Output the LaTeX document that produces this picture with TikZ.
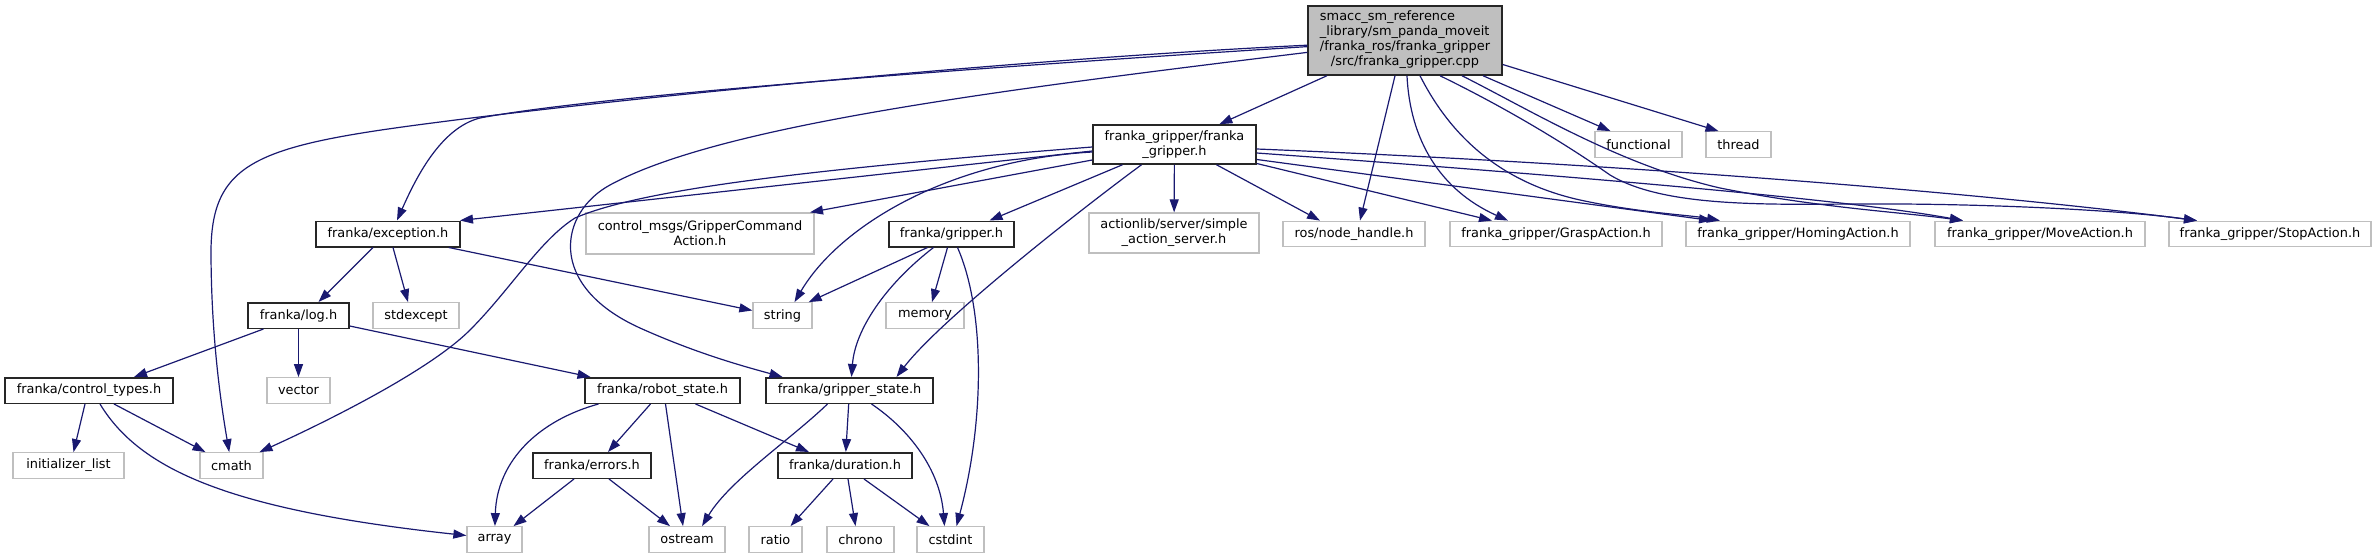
\documentclass[tikz,border=0pt]{standalone}
\usepackage{fontspec}
\setmainfont{DejaVu Sans}
\usetikzlibrary{arrows.meta}
\definecolor{edgeblue}{HTML}{191970}
\definecolor{boxgray}{HTML}{BFBFBF}

\begin{document}
\begin{tikzpicture}[x=1pt, y=-1pt, font=\fontsize{12.9}{15}\selectfont,
  box/.style={draw=black!85, line width=1.5pt, inner sep=0pt, minimum height=25.5, align=center},
  ext/.style={box, draw=boxgray, line width=1.3pt},
  dep/.style={draw=edgeblue, line width=1.2pt, -{Triangle[length=13pt,width=9pt]}}]
  \useasboundingbox (0,0) rectangle (2377,559);

  % nodes, row by row
  \node[box, fill=boxgray, minimum width=194, minimum height=69] (cpp) at (1405,40.5)
    {\begin{tabular}{@{}l@{}}smacc\_sm\_reference\\\_library/sm\_panda\_moveit\\/franka\_ros/franka\_gripper\\\multicolumn{1}{@{}c@{}}{/src/franka\_gripper.cpp}\end{tabular}};

  \node[box, minimum width=163, minimum height=39] (fgripper) at (1174.5,144.5) {franka\_gripper/franka\\\_gripper.h};
  \node[ext, minimum width=87] (functional) at (1638.5,144.5) {functional};
  \node[ext, minimum width=65] (thread) at (1738.5,144.5) {thread};

  \node[box, minimum width=144] (exception) at (388,234) {franka/exception.h};
  \node[ext, minimum width=228, minimum height=41] (ctrlmsgs) at (700,233.5) {control\_msgs/GripperCommand\\Action.h};
  \node[box, minimum width=125] (gripper) at (951.5,234) {franka/gripper.h};
  \node[ext, minimum width=170, minimum height=40] (actionlib) at (1174,233) {actionlib/server/simple\\\_action\_server.h};
  \node[ext, minimum width=142] (nodehandle) at (1354,234) {ros/node\_handle.h};
  \node[ext, minimum width=212] (grasp) at (1556,234) {franka\_gripper/GraspAction.h};
  \node[ext, minimum width=224] (homing) at (1798,234) {franka\_gripper/HomingAction.h};
  \node[ext, minimum width=210] (move) at (2040,234) {franka\_gripper/MoveAction.h};
  \node[ext, minimum width=202] (stop) at (2270,234) {franka\_gripper/StopAction.h};

  \node[box, minimum width=101] (log) at (298.5,315.5) {franka/log.h};
  \node[ext, minimum width=86] (stdexcept) at (416,315.5) {stdexcept};
  \node[ext, minimum width=59] (string) at (782.5,315.5) {string};
  \node[ext, minimum width=78] (memory) at (925,315.5) {memory};

  \node[box, minimum width=168] (ctltypes) at (89,390.5) {franka/control\_types.h};
  \node[ext, minimum width=63] (vector) at (298.5,390.5) {vector};
  \node[box, minimum width=155] (robotstate) at (662.5,390.5) {franka/robot\_state.h};
  \node[box, minimum width=167] (gripstate) at (849.5,390.5) {franka/gripper\_state.h};

  \node[ext, minimum width=111] (initlist) at (68.5,465.5) {initializer\_list};
  \node[ext, minimum width=63] (cmath) at (231.5,465.5) {cmath};
  \node[box, minimum width=118] (errors) at (592,465.5) {franka/errors.h};
  \node[box, minimum width=134] (duration) at (845,465.5) {franka/duration.h};

  \foreach \n/\x/\w in {array/494.5/55, ostream/687/76, ratio/775.5/53, chrono/860.5/67, cstdint/950.5/67}
    \node[ext, minimum width=\w] (\n) at (\x,539.5) {\n};

  % includes of the .cpp
  \draw[dep] (cpp) .. controls (1000,60) and (600,101) .. (440,122) .. controls (260,145) and (212,160) .. (211,250) .. controls (211,340) and (222,410) .. (cmath);
  \draw[dep] (cpp) .. controls (1000,66) and (600,95) .. (480,118) .. controls (440,128) and (415,180) .. ([xshift=9]exception.north);
  \draw[dep] (cpp) -- (fgripper);
  \draw[dep] (cpp) .. controls (1000,90) and (720,125) .. (610,185) .. controls (560,212) and (545,285) .. (640,328) .. controls (700,355) and (750,368) .. ([xshift=-67]gripstate.north);
  \draw[dep] ([xshift=-10]cpp.south) -- ([xshift=6]nodehandle.north);
  \draw[dep] ([xshift=2]cpp.south) .. controls (1410,140) and (1440,190) .. ([xshift=-48]grasp.north);
  \draw[dep] ([xshift=15]cpp.south) .. controls (1445,125) and (1490,180) .. (1580,200) .. controls (1640,213) and (1690,215) .. ([xshift=-78]homing.north);
  \draw[dep] ([xshift=35]cpp.south) .. controls (1500,105) and (1560,140) .. (1610,175) .. controls (1660,205) and (1750,205) .. (1850,204) .. controls (1980,203) and (2120,210) .. ([xshift=-73]stop.north);
  \draw[dep] ([xshift=57]cpp.south) .. controls (1530,110) and (1620,165) .. (1720,188) .. controls (1820,208) and (1900,212) .. ([xshift=-77]move.north);
  \draw[dep] ([xshift=78]cpp.south) -- ([xshift=-28]functional.north);
  \draw[dep] ([yshift=-24]cpp.east) -- ([xshift=-20]thread.north);

  % includes of franka_gripper.h
  \draw[dep] ([yshift=-6.5]fgripper.west) -- ([xshift=72]exception.north);
  \draw[dep] ([yshift=-2.5]fgripper.west) .. controls (800,170) and (640,190) .. (575,218) .. controls (540,240) and (510,290) .. (470,330) .. controls (430,370) and (330,420) .. ([xshift=28]cmath.north);
  \draw[dep] ([yshift=-15.5]fgripper.west) -- ([xshift=110]ctrlmsgs.north);
  \draw[dep] ([xshift=-52]fgripper.south) -- ([xshift=38]gripper.north);
  \draw[dep] ([yshift=-7.5]fgripper.west) .. controls (950,160) and (840,225) .. ([xshift=12]string.north);
  \draw[dep] ([xshift=-33]fgripper.south) .. controls (1080,210) and (940,320) .. ([xshift=47]gripstate.north);
  \draw[dep] (fgripper) -- (actionlib);
  \draw[dep] ([xshift=42]fgripper.south) -- ([xshift=-34]nodehandle.north);
  \draw[dep] ([yshift=-19]fgripper.east) -- ([xshift=-64]grasp.north);
  \draw[dep] ([yshift=-15]fgripper.east) -- ([xshift=-86]homing.north);
  \draw[dep] ([yshift=-8.5]fgripper.east) .. controls (1600,178) and (1850,200) .. ([xshift=-77]move.north);
  \draw[dep] ([yshift=-4.5]fgripper.east) .. controls (1650,165) and (2000,195) .. ([xshift=-73]stop.north);

  % franka headers
  \draw[dep] ([xshift=-15]exception.south) -- ([xshift=20]log.north);
  \draw[dep] ([xshift=5]exception.south) -- ([xshift=-8]stdexcept.north);
  \draw[dep] ([xshift=-12]exception.south east) -- ([yshift=5]string.west);

  \draw[dep] ([xshift=-24]gripper.south) -- ([xshift=-4]string.north east);
  \draw[dep] ([xshift=-4]gripper.south) -- ([xshift=7]memory.north);
  \draw[dep] ([xshift=-18]gripper.south) .. controls (885,285) and (855,330) .. ([xshift=2]gripstate.north);
  \draw[dep] ([xshift=6]gripper.south) .. controls (985,310) and (985,420) .. ([xshift=6]cstdint.north);

  \draw[dep] ([xshift=-35]log.south) -- ([xshift=45]ctltypes.north);
  \draw[dep] (log) -- (vector);
  \draw[dep] ([yshift=3]log.south east) -- ([xshift=-72]robotstate.north);

  \draw[dep] ([xshift=-4]ctltypes.south) -- ([xshift=5]initlist.north);
  \draw[dep] ([xshift=25]ctltypes.south) -- ([xshift=-26]cmath.north);
  \draw[dep] ([xshift=11]ctltypes.south) .. controls (140,470) and (230,510) .. ([yshift=4]array.west);

  \draw[dep] ([xshift=-64]robotstate.south) .. controls (540,420) and (497,460) .. (array);
  \draw[dep] ([xshift=-12]robotstate.south) -- ([xshift=16]errors.north);
  \draw[dep] ([xshift=3]robotstate.south) -- ([xshift=-4]ostream.north);
  \draw[dep] ([xshift=33]robotstate.south) -- ([xshift=-36]duration.north);

  \draw[dep] ([xshift=-22]gripstate.south) .. controls (790,440) and (730,480) .. ([xshift=15]ostream.north);
  \draw[dep] (gripstate) -- (duration);
  \draw[dep] ([xshift=22]gripstate.south) .. controls (910,430) and (940,470) .. ([xshift=-6]cstdint.north);

  \draw[dep] ([xshift=-18]errors.south) -- ([xshift=19]array.north);
  \draw[dep] ([xshift=17]errors.south) -- ([xshift=-17]ostream.north);

  \draw[dep] ([xshift=-12]duration.south) -- ([xshift=15]ratio.north);
  \draw[dep] ([xshift=3]duration.south) -- ([xshift=-5]chrono.north);
  \draw[dep] ([xshift=19]duration.south) -- ([xshift=-21]cstdint.north);
\end{tikzpicture}
\end{document}
